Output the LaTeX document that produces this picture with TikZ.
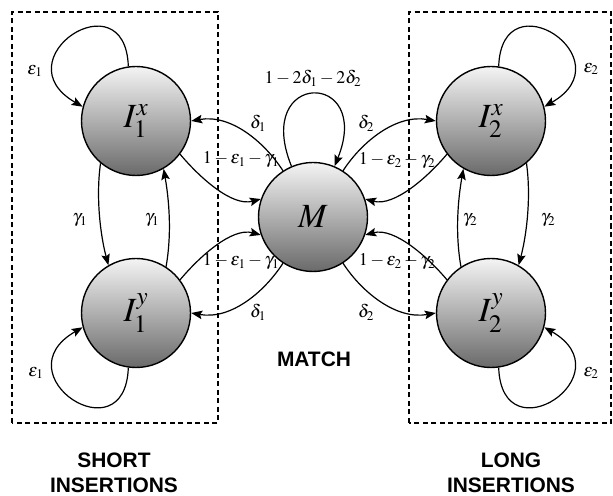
\documentclass[tikz,border=0pt]{standalone}
\usepackage{mathptmx}
\usepackage[no-math]{fontspec}
\setmainfont{Liberation Serif}
\newfontfamily\lblsans{Liberation Sans}
\usetikzlibrary{arrows.meta}
\definecolor{cTop}{HTML}{F4F4F4}
\definecolor{cBot}{HTML}{6A6A6A}
\begin{document}
\begin{tikzpicture}[x=1bp,y=1bp,
  state/.style={circle, draw, line width=1.4bp, minimum size=109bp, inner sep=0pt,
    top color=cTop, bottom color=cBot, font=\fontsize{34}{34}\selectfont},
  arr/.style={line width=1.2bp, -{Stealth[length=11bp,width=8.5bp,inset=2bp]}},
  lbl/.style={font=\fontsize{18}{18}\selectfont, inner sep=0pt},
  boxd/.style={line width=1.8bp, dash pattern=on 5bp off 3.5bp},
  captext/.style={font=\lblsans\bfseries\fontsize{21}{21}\selectfont, inner sep=0pt}
]
\useasboundingbox (0,0) rectangle (613,496);

% dashed boxes
\draw[boxd] (12,73) rectangle (218,484);
\draw[boxd] (409,73) rectangle (611,484);

% states
\node[state] (I1x) at (136,375) {$I_1^x$};
\node[state] (I1y) at (136,183) {$I_1^y$};
\node[state] (M)   at (313,279) {$M$};
\node[state] (I2x) at (491,375) {$I_2^x$};
\node[state] (I2y) at (491,183) {$I_2^y$};

% self loops
\draw[arr] (I1x.98)  .. controls +(92:90)  and +(150:95) .. (I1x.165);
\draw[arr] (I1y.262) .. controls +(268:90) and +(210:95) .. (I1y.195);
\draw[arr] (I2x.82)  .. controls +(88:90)  and +(30:95)  .. (I2x.15);
\draw[arr] (I2y.278) .. controls +(272:90) and +(330:95) .. (I2y.345);
\draw[arr] (M.113)   .. controls +(112:104) and +(68:104)  .. (M.67);

% vertical transitions, left
\draw[arr] (I1x.230) .. controls +(262:35) and +(105:30) .. (I1y.120);
\draw[arr] (I1y.57)  .. controls +(80:35)  and +(280:30) .. (I1x.300);
% vertical transitions, right
\draw[arr] (I2y.123) .. controls +(100:35) and +(260:30) .. (I2x.240);
\draw[arr] (I2x.310) .. controls +(278:35) and +(75:30)  .. (I2y.60);

% M <-> left
\draw[arr] (M.123)   .. controls +(123:35) and +(10:40)  .. (I1x.0);
\draw[arr] (I1x.323) .. controls +(310:30) and +(195:30) .. (M.161);
\draw[arr] (I1y.37)  .. controls +(50:30)  and +(165:30) .. (M.199);
\draw[arr] (M.237)   .. controls +(237:35) and +(350:40) .. (I1y.0);
% M <-> right
\draw[arr] (M.57)    .. controls +(57:35)  and +(170:40) .. (I2x.180);
\draw[arr] (I2x.217) .. controls +(230:30) and +(345:30) .. (M.19);
\draw[arr] (I2y.143) .. controls +(130:30) and +(15:30)  .. (M.341);
\draw[arr] (M.303)   .. controls +(303:35) and +(190:40) .. (I2y.180);

% labels
\node[lbl] (le1a) at (35,425)  {$\varepsilon_1$};
\node[lbl] (le1b) at (36,123)  {$\varepsilon_1$};
\node[lbl] (le2a) at (591,427) {$\varepsilon_2$};
\node[lbl] (le2b) at (591,123) {$\varepsilon_2$};
\node[lbl] (lg1a) at (80,276)  {$\gamma_1$};
\node[lbl] (lg1b) at (152,276) {$\gamma_1$};
\node[lbl] (lg2a) at (470,276) {$\gamma_2$};
\node[lbl] (lg2b) at (548,276) {$\gamma_2$};
\node[lbl] (ld1a) at (258,373) {$\delta_1$};
\node[lbl] (ld2a) at (366,373) {$\delta_2$};
\node[lbl] (ld1b) at (258,184) {$\delta_1$};
\node[lbl] (ld2b) at (366,184) {$\delta_2$};
\node[lbl] (lm1a) at (241,336) {$1-\varepsilon_1-\gamma_1$};
\node[lbl] (lm1b) at (241,234) {$1-\varepsilon_1-\gamma_1$};
\node[lbl] (lm2a) at (397,335) {$1-\varepsilon_2-\gamma_2$};
\node[lbl] (lm2b) at (397,234) {$1-\varepsilon_2-\gamma_2$};
\node[lbl] (lmm)  at (313,418) {$1-2\delta_1-2\delta_2$};

% captions
\node[captext] (match) at (314,137) {MATCH};
\node[captext] (sh1) at (114,36) {SHORT};
\node[captext] (sh2) at (114,11) {INSERTIONS};
\node[captext] (lo1) at (511,36) {LONG};
\node[captext] (lo2) at (511,11) {INSERTIONS};
\end{tikzpicture}
\end{document}
